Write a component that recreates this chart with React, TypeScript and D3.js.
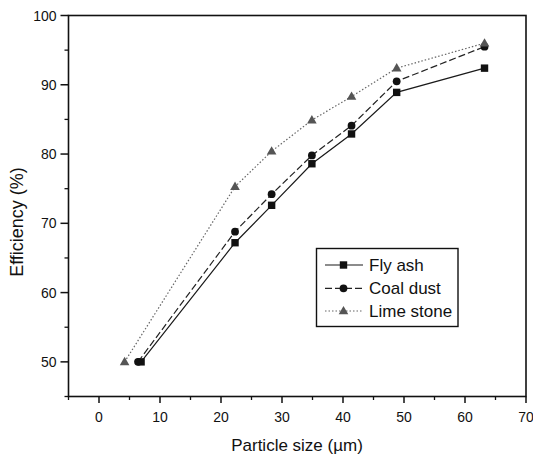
import React from "react";
import * as d3 from "d3";

const particleSizeFly = [6.9, 22.3, 28.3, 34.9, 41.4, 48.8, 63.2];
const flyAsh = [50, 67.2, 72.6, 78.6, 82.9, 88.9, 92.4];
const particleSizeCoal = [6.4, 22.3, 28.3, 34.9, 41.4, 48.8, 63.2];
const coalDust = [50, 68.8, 74.2, 79.8, 84.1, 90.5, 95.5];
const particleSizeLime = [4.2, 22.3, 28.3, 34.9, 41.4, 48.8, 63.2];
const limeStone = [50, 75.3, 80.4, 84.9, 88.3, 92.4, 96.0];

const xMajorTicks = [0, 10, 20, 30, 40, 50, 60, 70];
const xMinorTicks = [-5, 5, 15, 25, 35, 45, 55, 65];
const yMajorTicks = [50, 60, 70, 80, 90, 100];
const yMinorTicks = [45, 55, 65, 75, 85, 95];

const seriesNames = ["Fly ash", "Coal dust", "Lime stone"];

export default function App() {
  const W = 533, H = 455;
  const L = 68.5, R = 526, T = 15.5, B = 396.5;
  const x = d3.scaleLinear().domain([-5, 70]).range([L, R]);
  const y = d3.scaleLinear().domain([45, 100]).range([B, T]);
  const font = "'Liberation Sans', Arial, sans-serif";

  const series = [
    { name: seriesNames[0], xs: particleSizeFly, ys: flyAsh, dash: undefined, color: "#1a1a1a", marker: "square", mcolor: "#111" },
    { name: seriesNames[1], xs: particleSizeCoal, ys: coalDust, dash: "7,3", color: "#222", marker: "circle", mcolor: "#111" },
    { name: seriesNames[2], xs: particleSizeLime, ys: limeStone, dash: "1.5,2", color: "#666", marker: "triangle", mcolor: "#555" },
  ];

  const line = d3.line<[number, number]>().x((d) => x(d[0])).y((d) => y(d[1]));

  const marker = (kind: string, cx: number, cy: number, color: string, key: string) => {
    if (kind === "square") return <rect key={key} x={cx - 3.7} y={cy - 3.7} width={7.4} height={7.4} fill={color} />;
    if (kind === "circle") return <circle key={key} cx={cx} cy={cy} r={3.9} fill={color} />;
    const tri = d3.symbol().type(d3.symbolTriangle).size(40)();
    return <path key={key} d={tri || ""} transform={`translate(${cx},${cy + 0.5})`} fill={color} />;
  };

  const legendRows = [265, 288.3, 311];

  return (
    <svg width={W} height={H} style={{ position: "absolute", left: 0, top: 0, background: "#fff" }}>
      <rect width={W} height={H} fill="#fff" />
      {series.map((s, i) => (
        <g key={s.name}>
          <path
            d={line(s.xs.map((v, j) => [v, s.ys[j]] as [number, number])) || ""}
            fill="none"
            stroke={s.color}
            strokeWidth={1.2}
            strokeDasharray={s.dash}
          />
          {s.xs.map((v, j) => marker(s.marker, x(v), y(s.ys[j]), s.mcolor, `${i}-${j}`))}
        </g>
      ))}
      {/* frame */}
      <rect x={L} y={T} width={R - L} height={B - T} fill="none" stroke="#111" strokeWidth={1.6} />
      {/* x ticks */}
      {xMajorTicks.map((t) => (
        <g key={"xm" + t}>
          <line x1={x(t)} x2={x(t)} y1={B} y2={B + 6.5} stroke="#111" strokeWidth={1.5} />
          <text x={x(t)} y={421.5} textAnchor="middle" fontFamily={font} fontSize={14} fill="#111">{t}</text>
        </g>
      ))}
      {xMinorTicks.map((t) => (
        <line key={"xn" + t} x1={x(t)} x2={x(t)} y1={B} y2={B + 3.5} stroke="#111" strokeWidth={1.3} />
      ))}
      {yMajorTicks.map((t) => (
        <g key={"ym" + t}>
          <line x1={L} x2={L - 8} y1={y(t)} y2={y(t)} stroke="#111" strokeWidth={1.5} />
          <text x={56.5} y={y(t) + 5} textAnchor="end" fontFamily={font} fontSize={14} fill="#111">{t}</text>
        </g>
      ))}
      {yMinorTicks.map((t) => (
        <line key={"yn" + t} x1={L} x2={L - 4} y1={y(t)} y2={y(t)} stroke="#111" strokeWidth={1.3} />
      ))}
      <text x={297} y={450.5} textAnchor="middle" fontFamily={font} fontSize={17} fill="#111">Particle size (µm)</text>
      <text transform="translate(23,222) rotate(-90)" textAnchor="middle" fontFamily={font} fontSize={18} fill="#111">Efficiency (%)</text>
      {/* legend */}
      <rect x={316.5} y={248.5} width={141.5} height={78} fill="#fff" stroke="#111" strokeWidth={1.4} />
      {series.map((s, i) => (
        <g key={"lg" + i}>
          <line x1={325} x2={363} y1={legendRows[i]} y2={legendRows[i]} stroke={s.color} strokeWidth={1.2} strokeDasharray={s.dash} />
          {marker(s.marker, 343.5, legendRows[i], s.mcolor, "lm" + i)}
          <text x={369} y={legendRows[i] + 6} fontFamily={font} fontSize={17} fill="#111">{s.name}</text>
        </g>
      ))}
    </svg>
  );
}
